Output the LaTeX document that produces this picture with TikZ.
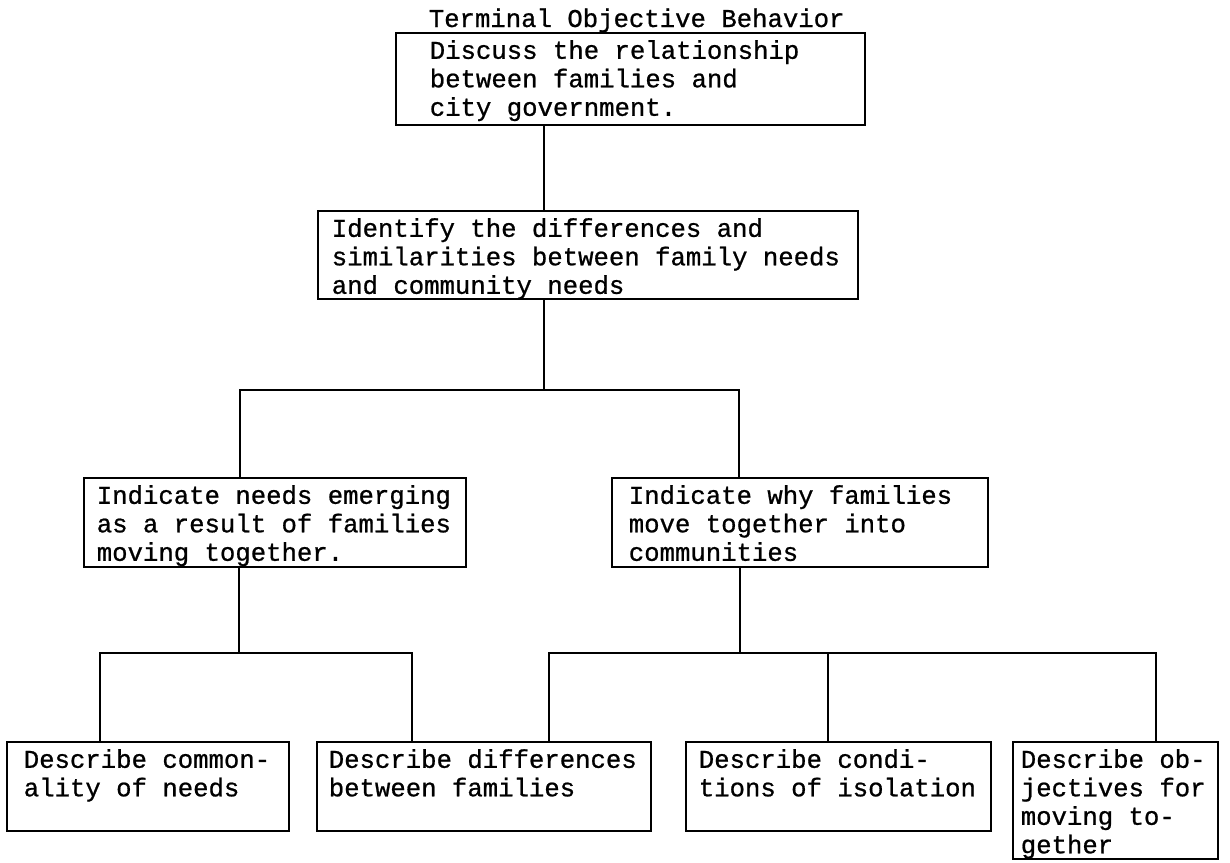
\documentclass[tikz,border=0pt]{standalone}
\usepackage{fontspec}
\newfontfamily\typewriter[FakeBold=0.8]{Liberation Mono}
\usepackage{tikz}

\begin{document}
\begin{tikzpicture}[x=.5pt,y=-.5pt,line width=.8pt,
    objbox/.style={draw, anchor=north west, align=flush left, inner ysep=0pt,
        text height=13pt, text depth=31.5pt,
        font=\typewriter\fontsize{12.83}{14.25}\selectfont}]
    \useasboundingbox (0,0) rectangle (1230,862);
    % terminal objective
    \node[anchor=base west, inner sep=0pt, font=\typewriter\fontsize{12.83}{14.25}\selectfont]
        (title) at (428,27) {Terminal Objective Behavior};
    \node[objbox, inner xsep=17pt, text width=200.5pt, text depth=33pt] (discuss) at (395,32)
        {Discuss the relationship\\between families and\\city government.};
    \node[objbox, inner xsep=7pt, text width=256pt, text depth=31pt] (identify) at (317,210)
        {Identify the differences and\\similarities between family needs\\and community needs};
    % second level
    \node[objbox, inner xsep=6.5pt, text width=178pt] (emerging) at (83,477)
        {Indicate needs emerging\\as a result of families\\moving together.};
    \node[objbox, inner xsep=8.5pt, text width=171pt] (whymove) at (611,477)
        {Indicate why families\\move together into\\communities};
    % bottom level
    \node[objbox, inner xsep=8.5pt, text width=124pt] (common) at (6,741)
        {Describe common-\\ality of needs};
    \node[objbox, inner xsep=6pt, text width=155pt] (differ) at (316,741)
        {Describe differences\\between families};
    \node[objbox, inner xsep=6.5pt, text width=139.5pt] (isolate) at (685,741)
        {Describe condi-\\tions of isolation};
    \node[objbox, inner xsep=4pt, text width=94.5pt, text depth=45.5pt] (movobj) at (1012,741)
        {Describe ob-\\jectives for\\moving to-\\gether};
    % branch points
    \coordinate (split1) at (544,390);
    \coordinate (split2) at (239,653);
    \coordinate (split3) at (740,653);
    \coordinate (drop3) at (240,390);
    \coordinate (drop4) at (739,390);
    \coordinate (drop5) at (100,653);
    \coordinate (drop6a) at (412,653);
    \coordinate (drop6b) at (549,653);
    \coordinate (drop7) at (828,653);
    \coordinate (drop8) at (1156,653);
    % connectors
    \draw (discuss.south -| split1) -- (identify.north -| split1);
    \draw (identify.south -| split1) -- (split1);
    \draw (emerging.north -| drop3) -- (drop3) -- (drop4) -- (whymove.north -| drop4);
    \draw (emerging.south -| split2) -- (split2);
    \draw (common.north -| drop5) -- (drop5) -- (drop6a) -- (differ.north -| drop6a);
    \draw (whymove.south -| split3) -- (split3);
    \draw (differ.north -| drop6b) -- (drop6b) -- (drop8) -- (movobj.north -| drop8);
    \draw (drop7) -- (isolate.north -| drop7);
\end{tikzpicture}
\end{document}
